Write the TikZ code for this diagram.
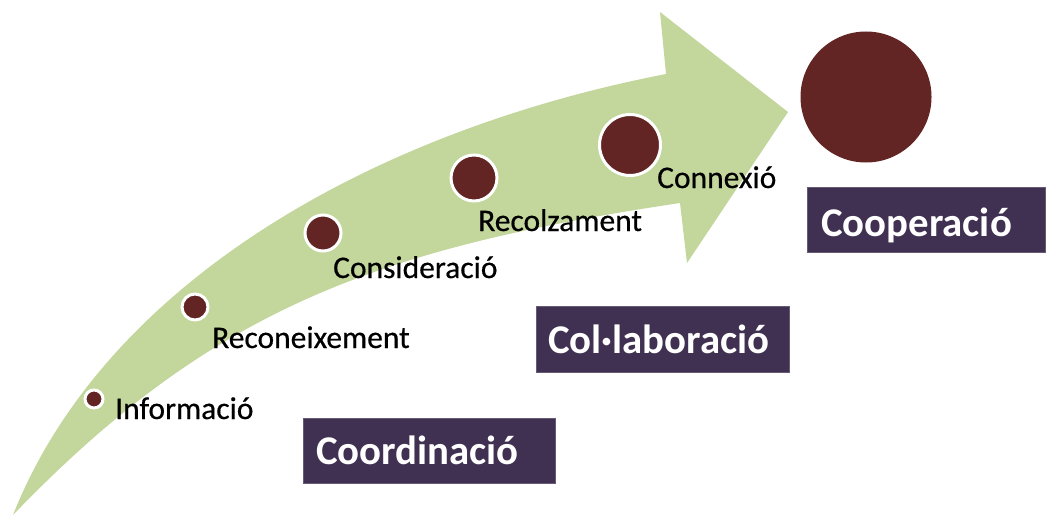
\documentclass[tikz,border=0pt]{standalone}
\usepackage{fontspec}
\setmainfont{Carlito}
\newfontfamily\lblfont[FakeBold=0.5]{Carlito}
\definecolor{arrowgreen}{HTML}{C3D69B}
\definecolor{dotred}{HTML}{632523}
\definecolor{boxpurple}{HTML}{403152}
\tikzset{
  dot/.style={circle, fill=dotred, draw=white, line width=3pt, inner sep=0pt},
  lbl/.style={anchor=base west, inner sep=0pt, font=\lblfont\fontsize{31.5}{36}\selectfont, text=black},
  boxrect/.style={rectangle, fill=boxpurple, draw=boxpurple!80!white, line width=0.6pt, inner sep=0pt, anchor=north west},
  boxtext/.style={anchor=base west, inner sep=0pt, font=\fontsize{40.8}{48}\selectfont\bfseries, text=white}
}
\begin{document}
\begin{tikzpicture}[x=1pt,y=-1pt]
\useasboundingbox (0,0) rectangle (1048,516);
% curved arrow
\fill[arrowgreen] (13,515) .. controls (105,283) and (372,131) .. (666,74)
  -- (660,12) -- (788,112) -- (687,263) -- (680,203)
  .. controls (380,248) and (213,307) .. (13,515) -- cycle;
% dots
\node[dot, minimum size=18pt] (d1) at (94,399) {};
\node[dot, minimum size=26pt] (d2) at (195,307) {};
\node[dot, minimum size=36pt] (d3) at (323,233) {};
\node[dot, minimum size=46pt] (d4) at (474,178) {};
\node[dot, minimum size=61pt] (d5) at (630,145) {};
\node[circle, fill=dotred, inner sep=0pt, minimum size=131pt] (d6) at (866,97) {};
% labels
\node[lbl] (l1) at (115,419) {Informació};
\node[lbl] (l2) at (212,348) {Reconeixement};
\node[lbl] (l3) at (333,278) {Consideració};
\node[lbl] (l4) at (478,231) {Recolzament};
\node[lbl] (l5) at (657,188) {Connexió};
% boxes
\node[boxrect, minimum width=252pt, minimum height=65pt] (b1) at (303,418) {};
\node[boxtext] (t1) at (316,464) {Coordinació};
\node[boxrect, minimum width=253pt, minimum height=66pt] (b2) at (536,306) {};
\node[boxtext] (t2) at (548,353) {Col·laboració};
\node[boxrect, minimum width=238pt, minimum height=65pt] (b3) at (807,187) {};
\node[boxtext] (t3) at (821,236) {Cooperació};
\end{tikzpicture}
\end{document}
